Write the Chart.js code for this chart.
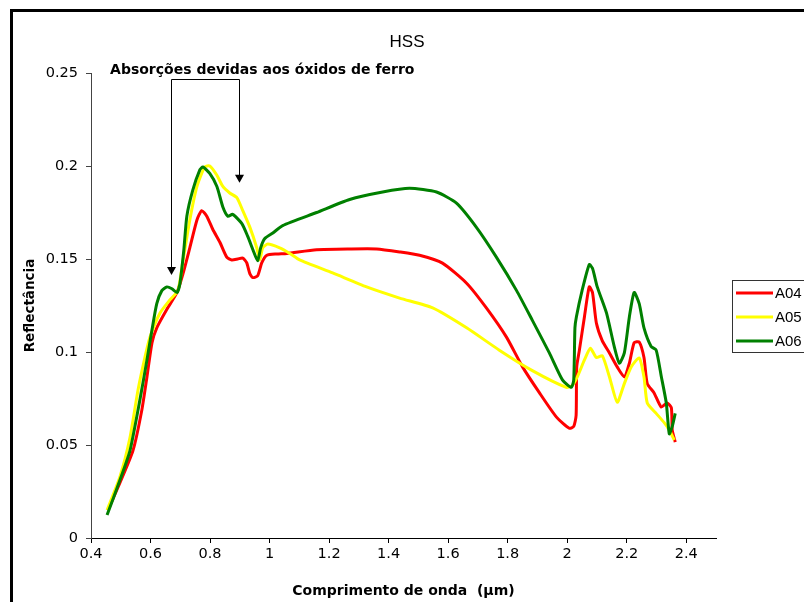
<!DOCTYPE html>
<html><head><meta charset="utf-8">
<script src="https://cdn.jsdelivr.net/npm/chart.js@4"></script>
<style>html,body{margin:0;padding:0;background:#fff;overflow:hidden}#wrap{position:relative;width:804px;height:602px}</style>
</head><body><div id="wrap"><canvas id="c" width="804" height="602"></canvas></div>
<script>
const seriesNames = ['A04', 'A05', 'A06'];
const seriesColors = ['#FF0000', '#FFFF00', '#008000'];

const a04X = [0.457,0.497,0.541,0.571,0.588,0.605,0.621,0.655,0.689,0.709,0.732,0.756,0.772,0.789,0.809,0.833,0.856,0.873,0.893,0.910,0.923,0.934,0.944,0.960,0.974,0.991,1.024,1.058,1.158,1.269,1.36,1.437,1.504,1.581,1.662,1.729,1.796,1.850,1.907,1.964,2.007,2.022,2.030,2.032,2.041,2.058,2.074,2.085,2.098,2.118,2.142,2.168,2.192,2.209,2.225,2.242,2.258,2.269,2.292,2.316,2.336,2.350,2.353,2.363];
const a04Y = [0.015,0.0296,0.047,0.069,0.0866,0.105,0.113,0.123,0.132,0.142,0.156,0.171,0.176,0.173,0.166,0.159,0.151,0.1495,0.150,0.1505,0.148,0.142,0.140,0.141,0.148,0.152,0.1527,0.153,0.155,0.1554,0.1554,0.1538,0.152,0.1478,0.137,0.1236,0.108,0.092,0.078,0.065,0.059,0.060,0.066,0.092,0.101,0.119,0.135,0.132,0.1156,0.106,0.0995,0.092,0.0866,0.094,0.105,0.1054,0.097,0.083,0.078,0.0704,0.0726,0.070,0.058,0.0516];

const a05X = [0.454,0.497,0.531,0.558,0.581,0.598,0.632,0.665,0.692,0.709,0.732,0.756,0.782,0.799,0.823,0.843,0.866,0.890,0.910,0.934,0.957,0.967,0.977,0.994,1.034,1.068,1.101,1.212,1.326,1.437,1.548,1.662,1.772,1.883,1.997,2.017,2.034,2.058,2.078,2.098,2.118,2.142,2.168,2.192,2.215,2.242,2.258,2.269,2.299,2.326,2.343,2.360];
const a05Y = [0.015,0.0328,0.054,0.0796,0.097,0.108,0.121,0.128,0.133,0.149,0.171,0.189,0.1995,0.200,0.195,0.189,0.1855,0.183,0.176,0.167,0.156,0.1495,0.156,0.158,0.156,0.153,0.1495,0.1425,0.135,0.129,0.1237,0.113,0.101,0.090,0.081,0.082,0.0866,0.0957,0.102,0.097,0.098,0.0866,0.073,0.083,0.092,0.0968,0.0866,0.0726,0.067,0.062,0.058,0.0527];

const a06X = [0.454,0.497,0.531,0.564,0.588,0.605,0.621,0.638,0.655,0.672,0.689,0.699,0.712,0.722,0.742,0.766,0.776,0.799,0.823,0.843,0.860,0.876,0.907,0.927,0.944,0.960,0.970,0.984,1.011,1.044,1.158,1.269,1.380,1.470,1.561,1.628,1.695,1.762,1.830,1.883,1.940,1.984,2.014,2.022,2.026,2.031,2.050,2.074,2.085,2.101,2.132,2.158,2.175,2.192,2.209,2.225,2.242,2.258,2.282,2.299,2.316,2.333,2.343,2.353,2.363];
const a06Y = [0.0124,0.031,0.047,0.074,0.0957,0.112,0.126,0.133,0.135,0.134,0.132,0.137,0.155,0.173,0.187,0.198,0.1995,0.196,0.189,0.178,0.173,0.174,0.169,0.162,0.155,0.149,0.156,0.161,0.164,0.168,0.175,0.182,0.186,0.188,0.186,0.180,0.167,0.151,0.133,0.117,0.0995,0.085,0.081,0.085,0.113,0.119,0.133,0.147,0.145,0.135,0.121,0.103,0.094,0.0995,0.119,0.132,0.126,0.113,0.103,0.101,0.087,0.0726,0.056,0.060,0.067];

const xTicks = [0.4,0.6,0.8,1,1.2,1.4,1.6,1.8,2,2.2,2.4];
const yTicks = [0,0.05,0.1,0.15,0.2,0.25];
const xRange = [0.4, 2.5];
const yRange = [0, 0.25];

const chartTitle = 'HSS';
const xTitle = 'Comprimento de onda  (µm)';
const yTitle = 'Reflectância';
const noteText = 'Absorções devidas aos óxidos de ferro';
const noteAnchor = [0.464, 0.2516];
const arrowX = [0.668, 0.897];
const arrowTipY = [0.1414, 0.191];
const bracketY = 0.2468;

const xs = [a04X, a05X, a06X];
const ys = [a04Y, a05Y, a06Y];
const datasets = seriesNames.map((n, i) => ({
  label: n,
  data: xs[i].map((x, j) => ({x: x, y: ys[i][j]})),
  borderColor: seriesColors[i],
  backgroundColor: seriesColors[i],
  borderWidth: 3,
  pointRadius: 0,
  tension: 0.2,
  fill: false,
  order: 2 - i
}));

const FONT = 'Liberation Sans, Arial, sans-serif';
const WIDE = 'DejaVu Sans, sans-serif';

const decor = {
  id: 'decor',
  afterDraw(chart) {
    const ctx = chart.ctx;
    const sx = chart.scales.x, sy = chart.scales.y;
    ctx.save();
    ctx.strokeStyle = '#000';
    ctx.lineWidth = 3;
    ctx.strokeRect(11.5, 10.5, 900, 700);
    ctx.fillStyle = '#000';
    ctx.font = '17px ' + FONT;
    ctx.textAlign = 'center';
    ctx.textBaseline = 'middle';
    ctx.fillText(chartTitle, 407, 42);
    ctx.font = 'bold 14px ' + WIDE;
    ctx.textAlign = 'left';
    ctx.fillText(noteText, sx.getPixelForValue(noteAnchor[0]), sy.getPixelForValue(noteAnchor[1]));
    const by = Math.round(sy.getPixelForValue(bracketY)) + 0.5;
    const ax = arrowX.map(v => Math.round(sx.getPixelForValue(v)) + 0.5);
    ctx.strokeStyle = '#000';
    ctx.lineWidth = 1;
    ctx.beginPath();
    ctx.moveTo(ax[0], by); ctx.lineTo(ax[1], by);
    arrowX.forEach((v, i) => {
      const tip = sy.getPixelForValue(arrowTipY[i]);
      ctx.moveTo(ax[i], by); ctx.lineTo(ax[i], tip - 6);
    });
    ctx.stroke();
    arrowX.forEach((v, i) => {
      const tip = sy.getPixelForValue(arrowTipY[i]);
      ctx.beginPath();
      ctx.moveTo(ax[i] - 4.5, tip - 8);
      ctx.lineTo(ax[i] + 4.5, tip - 8);
      ctx.lineTo(ax[i], tip);
      ctx.closePath();
      ctx.fill();
    });
    ctx.strokeStyle = '#333';
    ctx.lineWidth = 1;
    ctx.strokeRect(732.5, 280.5, 120, 72);
    ctx.font = '15px ' + FONT;
    ctx.textBaseline = 'middle';
    seriesNames.forEach((n, i) => {
      const y = 293 + i * 24;
      ctx.strokeStyle = seriesColors[i];
      ctx.lineWidth = 3;
      ctx.beginPath();
      ctx.moveTo(736, y); ctx.lineTo(773, y);
      ctx.stroke();
      ctx.fillStyle = '#000';
      ctx.fillText(n, 775, y + 1);
    });
    ctx.restore();
  }
};

new Chart(document.getElementById('c'), {
  type: 'line',
  data: {datasets: datasets},
  plugins: [decor],
  options: {
    responsive: false,
    animation: false,
    devicePixelRatio: 1,
    layout: {padding: {left: 18, right: 88, top: 73, bottom: 0}},
    plugins: {legend: {display: false}, title: {display: false}, tooltip: {enabled: false}},
    scales: {
      x: {
        type: 'linear', min: xRange[0], max: xRange[1],
        afterBuildTicks: s => { s.ticks = xTicks.map(v => ({value: v})); },
        afterFit: s => { s.height = 64; },
        grid: {display: true, drawOnChartArea: false, drawTicks: true, tickLength: 5, color: '#000'},
        border: {display: true, color: '#000', width: 1},
        ticks: {color: '#000', font: {family: WIDE, size: 14.5}, padding: 3, maxRotation: 0, autoSkip: false,
          callback: v => String(+v.toFixed(1))},
        title: {display: true, text: xTitle, color: '#000', font: {family: WIDE, size: 14, weight: 'bold'}, padding: 2}
      },
      y: {
        type: 'linear', min: yRange[0], max: yRange[1],
        afterBuildTicks: s => { s.ticks = yTicks.map(v => ({value: v})); },
        afterFit: s => { s.width = 73; },
        grid: {display: true, drawOnChartArea: false, drawTicks: true, tickLength: 5, color: '#444'},
        border: {display: true, color: '#444', width: 1},
        ticks: {color: '#000', font: {family: WIDE, size: 14.5}, padding: 8, autoSkip: false,
          callback: v => String(+v.toFixed(2))},
        title: {display: true, text: yTitle, color: '#000', font: {family: WIDE, size: 13.5, weight: 'bold'}, padding: 4}
      }
    }
  }
});
</script>
</body></html>
